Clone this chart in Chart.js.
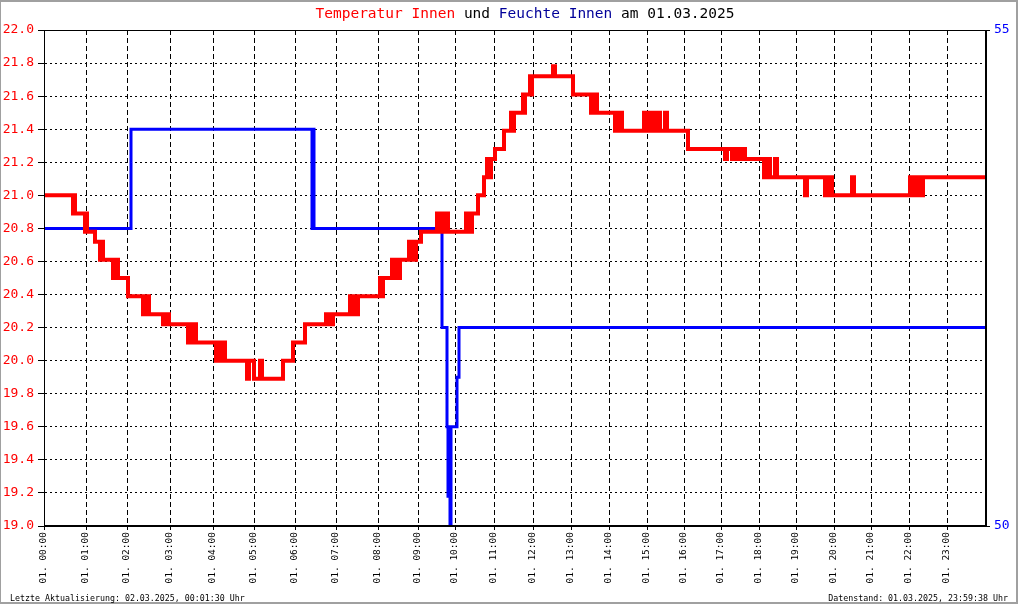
<!DOCTYPE html>
<html>
<head>
<meta charset="utf-8">
<script src="https://cdn.jsdelivr.net/npm/chart.js@4"></script>
<style>
  body { margin: 0; background: #fff; }
  canvas { display: block; }
</style>
</head>
<body>
<canvas id="chart" width="1020" height="606"></canvas>
<script>
// x = laufende Messwert-Nr. (die Messungen sind nicht gleichmäßig über den Tag verteilt)
// Wert gilt jeweils bis zum nächsten Punkt (Treppenlinie)
const tempIdx = [0, 29, 30, 31, 41, 42, 43, 51, 56, 58, 59, 69, 70, 74, 84,
  99, 100, 101, 103, 105, 119, 120, 122, 124, 125, 144, 145, 147, 148, 149, 151, 152,
  172, 173, 175, 177, 178, 180, 181, 203, 205, 210, 216, 218, 239, 249, 261,
  282, 283, 285, 287, 289, 306, 307, 309, 311, 314, 336, 338, 339,
  348, 350, 352, 354, 356, 365, 366, 368, 370, 372, 377,
  393, 394, 396, 398, 399, 400, 402, 404, 422, 423, 425, 426, 428, 434,
  440, 443, 445, 447, 451, 460, 467, 468, 470, 479, 480, 481, 486, 487, 488,
  509, 511, 529, 547, 548, 550, 551, 553, 571, 572, 574, 576, 578,
  600, 601, 602, 604, 606, 608, 609, 612, 613, 616, 621, 623, 644,
  681, 683, 688, 690, 692, 695, 697, 699, 701,
  720, 722, 723, 725, 726, 731, 733, 761, 763,
  781, 783, 784, 786, 788, 808, 810,
  866, 867, 869, 871, 872, 874, 875, 877, 879, 942];
const tempValues = [21.0, 20.89, 21.0, 20.89, 20.78, 20.89, 20.78, 20.72, 20.61, 20.72, 20.61, 20.5, 20.61, 20.5, 20.39,
  20.28, 20.39, 20.28, 20.39, 20.28, 20.22, 20.28, 20.22, 20.28, 20.22, 20.11, 20.22, 20.11, 20.22, 20.11, 20.22, 20.11,
  20.0, 20.11, 20.0, 20.11, 20.0, 20.11, 20.0, 19.89, 20.0, 19.89, 20.0, 19.89, 20.0, 20.11, 20.22,
  20.28, 20.22, 20.28, 20.22, 20.28, 20.39, 20.28, 20.39, 20.28, 20.39, 20.5, 20.39, 20.5,
  20.61, 20.5, 20.61, 20.5, 20.61, 20.72, 20.61, 20.72, 20.61, 20.72, 20.78,
  20.89, 20.78, 20.89, 20.78, 20.89, 20.78, 20.89, 20.78, 20.89, 20.78, 20.89, 20.78, 20.89, 21.0,
  21.11, 21.22, 21.11, 21.22, 21.28, 21.39, 21.5, 21.39, 21.5, 21.61, 21.5, 21.61, 21.72, 21.61, 21.72,
  21.78, 21.72, 21.61, 21.5, 21.61, 21.5, 21.61, 21.5, 21.39, 21.5, 21.39, 21.5, 21.39,
  21.5, 21.39, 21.5, 21.39, 21.5, 21.39, 21.5, 21.39, 21.5, 21.39, 21.5, 21.39, 21.28,
  21.22, 21.28, 21.22, 21.28, 21.22, 21.28, 21.22, 21.28, 21.22,
  21.11, 21.22, 21.11, 21.22, 21.11, 21.22, 21.11, 21.0, 21.11,
  21.0, 21.11, 21.0, 21.11, 21.0, 21.11, 21.0,
  21.11, 21.0, 21.11, 21.0, 21.11, 21.0, 21.11, 21.0, 21.11, 21.11];

const humIdx = [0, 87, 268, 269, 270, 398, 403, 404, 405, 406, 407, 413, 415, 942];
const humValues = [53, 54, 53, 54, 53, 52, 51, 50.3, 51, 50, 51, 51.5, 52, 52];

// Messwert-Nr. des jeweils ersten Werts jeder Stunde
const hourIdx = [0, 42, 83, 126, 169, 210, 251, 292, 334, 374, 411, 450,
  489, 527, 565, 603, 640, 677, 715, 752, 790, 827, 865, 903];
const hourLabels = ['01. 00:00', '01. 01:00', '01. 02:00', '01. 03:00', '01. 04:00', '01. 05:00',
  '01. 06:00', '01. 07:00', '01. 08:00', '01. 09:00', '01. 10:00', '01. 11:00',
  '01. 12:00', '01. 13:00', '01. 14:00', '01. 15:00', '01. 16:00', '01. 17:00',
  '01. 18:00', '01. 19:00', '01. 20:00', '01. 21:00', '01. 22:00', '01. 23:00'];

const titleParts = [
  ['Temperatur Innen', '#ff0000'], [' und ', '#000000'],
  ['Feuchte Innen', '#000099'], [' am 01.03.2025', '#000000']
];
const footerLeft = 'Letzte Aktualisierung: 02.03.2025, 00:01:30 Uhr';
const footerRight = 'Datenstand: 01.03.2025, 23:59:38 Uhr';

const mono = "'DejaVu Sans Mono', monospace";

function toPoints(xs, ys) {
  return xs.map((x, i) => ({ x: x, y: ys[i] }));
}

// Titel, Rahmen und Fußzeile
const decor = {
  id: 'decor',
  afterDraw(chart) {
    const ctx = chart.ctx;
    const a = chart.chartArea;
    ctx.save();
    ctx.strokeStyle = '#000';
    ctx.lineWidth = 1;
    ctx.setLineDash([]);
    ctx.strokeRect(a.left + 0.5, a.top + 0.5, a.right - a.left - 1, a.bottom - a.top - 1);

    // grauer Bildrahmen
    ctx.fillStyle = '#a0a0a0';
    ctx.fillRect(0, 0, 1018, 2);
    ctx.fillRect(0, 0, 1, 604);
    ctx.fillRect(1016, 0, 2, 604);
    ctx.fillRect(0, 602, 1018, 2);

    ctx.font = '14.5px ' + mono;
    ctx.textBaseline = 'middle';
    let total = 0;
    titleParts.forEach(p => total += ctx.measureText(p[0]).width);
    let x = 525 - total / 2;
    titleParts.forEach(p => {
      ctx.fillStyle = p[1];
      ctx.fillText(p[0], x, 14);
      x += ctx.measureText(p[0]).width;
    });

    ctx.font = '8.3px ' + mono;
    ctx.fillStyle = '#000';
    ctx.textAlign = 'left';
    ctx.fillText(footerLeft, 10, 599);
    ctx.textAlign = 'right';
    ctx.fillText(footerRight, 1008, 599);
    ctx.restore();
  }
};

new Chart(document.getElementById('chart'), {
  type: 'line',
  data: {
    datasets: [
      {
        label: 'Temperatur Innen',
        data: toPoints(tempIdx, tempValues),
        borderColor: '#ff0000',
        borderWidth: 4,
        stepped: true,
        pointRadius: 0,
        yAxisID: 'y'
      },
      {
        label: 'Feuchte Innen',
        data: toPoints(humIdx, humValues),
        borderColor: '#0000ff',
        borderWidth: 3,
        stepped: true,
        pointRadius: 0,
        yAxisID: 'y2'
      }
    ]
  },
  options: {
    responsive: false,
    animation: false,
    devicePixelRatio: 1,
    layout: { padding: { top: 30, left: 0, right: 0, bottom: 0 } },
    plugins: {
      legend: { display: false },
      tooltip: { enabled: false }
    },
    scales: {
      x: {
        type: 'linear',
        min: 0,
        max: 942,
        afterFit: s => { s.height = 80; },
        afterBuildTicks: s => { s.ticks = hourIdx.map(v => ({ value: v })); },
        ticks: {
          autoSkip: false,
          minRotation: 90,
          maxRotation: 90,
          padding: 2,
          color: '#000',
          font: { family: mono, size: 9.5 },
          callback: (v, i) => hourLabels[i]
        },
        grid: { color: '#000', lineWidth: 1, tickLength: 4, tickColor: '#000' },
        border: { display: true, color: '#000', dash: [5, 3] }
      },
      y: {
        position: 'left',
        min: 19,
        max: 22,
        afterFit: s => { s.width = 44; },
        ticks: {
          stepSize: 0.2,
          padding: 4,
          color: '#ff0000',
          font: { family: mono, size: 13 },
          callback: v => v.toFixed(1)
        },
        grid: { color: '#000', lineWidth: 1, tickLength: 6, tickColor: '#000' },
        border: { display: true, color: '#000', dash: [2, 3] }
      },
      y2: {
        position: 'right',
        min: 50,
        max: 55,
        afterFit: s => { s.width = 34; },
        ticks: {
          stepSize: 5,
          padding: 4,
          color: '#0000ff',
          font: { family: mono, size: 13 }
        },
        grid: { drawOnChartArea: false, tickLength: 4, tickColor: '#000' },
        border: { display: true, color: '#000' }
      }
    }
  },
  plugins: [decor]
});
</script>
</body>
</html>
